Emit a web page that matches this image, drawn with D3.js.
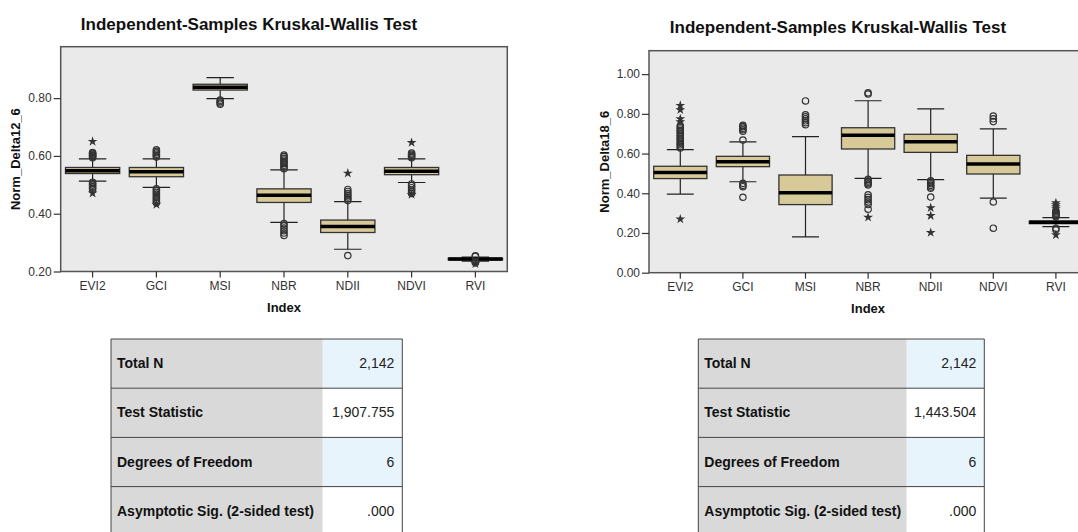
<!DOCTYPE html>
<html><head><meta charset="utf-8">
<script src="https://cdn.jsdelivr.net/npm/d3@7"></script>
<style>
body{margin:0;background:#fff}
svg{display:block}
text{font-family:"Liberation Sans",Arial,sans-serif}
</style>
</head><body>
<svg id="c" width="1078" height="532"></svg>
<script>
// ---------- DATA ----------
const categories = ["EVI2","GCI","MSI","NBR","NDII","NDVI","RVI"];
const chartTitle = "Independent-Samples Kruskal-Wallis Test";
const xAxisLabel = "Index";

// Chart 1: Norm_Delta12_6
const yLabel12 = "Norm_Delta12_6";
const yTicks12 = [0.20, 0.40, 0.60, 0.80];
const q1_12  = [0.539, 0.528, 0.828, 0.439, 0.335, 0.535, 0.240];
const med_12 = [0.549, 0.545, 0.838, 0.464, 0.356, 0.547, 0.243];
const q3_12  = [0.560, 0.560, 0.848, 0.486, 0.378, 0.560, 0.246];
const lo_12  = [0.513, 0.491, 0.798, 0.370, 0.277, 0.508, 0.236];
const hi_12  = [0.590, 0.590, 0.871, 0.552, 0.442, 0.590, 0.250];
const circles_12 = [
  [0.594,0.597,0.600,0.603,0.606,0.609,0.612, 0.509,0.504,0.499,0.494,0.489,0.484],
  [0.596,0.601,0.606,0.611,0.616,0.621, 0.486,0.480,0.474,0.468,0.462,0.456,0.450,0.444,0.438],
  [0.793,0.788,0.783,0.779],
  [0.556,0.562,0.568,0.574,0.580,0.586,0.592,0.598,0.603, 0.366,0.358,0.350,0.341,0.333,0.325],
  [0.446,0.452,0.458,0.464,0.470,0.477,0.484, 0.255],
  [0.594,0.598,0.602,0.606,0.610, 0.503,0.497,0.490,0.483,0.476,0.470],
  [0.252,0.254,0.233,0.230]
];
const stars_12 = [
  [0.650, 0.471],
  [0.432],
  [],
  [],
  [0.540],
  [0.646, 0.466],
  [0.227]
];

// Chart 2: Norm_Delta18_6
const yLabel18 = "Norm_Delta18_6";
const yTicks18 = [0.00, 0.20, 0.40, 0.60, 0.80, 1.00];
const q1_18  = [0.474, 0.534, 0.343, 0.623, 0.606, 0.497, 0.247];
const med_18 = [0.504, 0.559, 0.403, 0.692, 0.659, 0.548, 0.254];
const q3_18  = [0.536, 0.586, 0.492, 0.730, 0.697, 0.591, 0.260];
const lo_18  = [0.396, 0.458, 0.180, 0.475, 0.469, 0.376, 0.232];
const hi_18  = [0.620, 0.659, 0.685, 0.866, 0.825, 0.724, 0.277];
const circles_18 = [
  [0.628,0.636,0.644,0.652,0.660,0.668,0.676,0.684,0.692,0.700,0.708,0.716,0.724,0.732,0.740],
  [0.668,0.712,0.720,0.728,0.736,0.742, 0.450,0.440,0.433,0.380],
  [0.745,0.755,0.765,0.775,0.785,0.795,0.865],
  [0.900,0.906, 0.470,0.462,0.455,0.448,0.442,0.392,0.380,0.368,0.356,0.344,0.320],
  [0.463,0.456,0.448,0.440,0.432,0.425,0.381],
  [0.761,0.775,0.789, 0.356,0.224],
  [0.282,0.288,0.294,0.300,0.306,0.312, 0.224,0.216]
];
const stars_18 = [
  [0.760,0.775,0.820,0.842, 0.270],
  [],
  [],
  [0.279],
  [0.327,0.287,0.202],
  [],
  [0.322,0.332,0.342,0.352, 0.190]
];

// Tables
const tableLabels = ["Total N","Test Statistic","Degrees of Freedom","Asymptotic Sig. (2-sided test)"];
const tableValues12 = ["2,142","1,907.755","6",".000"];
const tableValues18 = ["2,142","1,443.504","6",".000"];

// ---------- DRAW ----------
const svg = d3.select("#c");
const fontTick = 12, fontAxis = 13;

function rows(q1, med, q3, lo, hi, circ, star){
  return categories.map((c,i)=>({cat:c,q1:q1[i],med:med[i],q3:q3[i],lo:lo[i],hi:hi[i],circ:circ[i],star:star[i]}));
}

function drawChart(cfg){
  const g = svg.append("g");
  const x = d3.scaleBand().domain(categories).range([cfg.x0, cfg.x1]).padding(0);
  const y = d3.scaleLinear().domain(cfg.yDomain).range([cfg.yb, cfg.yt]);
  const bw = x.bandwidth();

  // title
  g.append("text").attr("x", cfg.titleX).attr("y", cfg.titleY)
    .attr("text-anchor","middle").attr("font-size",17).attr("font-weight","bold")
    .attr("fill","#111").text(chartTitle);

  // plot background
  const clipId = "clip"+cfg.id;
  g.append("clipPath").attr("id",clipId).append("rect")
    .attr("x",cfg.x0).attr("y",cfg.yt).attr("width",cfg.x1-cfg.x0).attr("height",cfg.yb-cfg.yt);
  g.append("rect").attr("x",cfg.x0).attr("y",cfg.yt).attr("width",cfg.x1-cfg.x0).attr("height",cfg.yb-cfg.yt)
    .attr("fill","#eaeaea");

  const data = cfg.data;
  const pg = g.append("g").attr("clip-path",`url(#${clipId})`);
  const bg = pg.selectAll("g.box").data(data).join("g").attr("class","box")
    .attr("transform", d=>`translate(${x(d.cat)+bw/2},0)`);
  const boxW = bw*0.85, capW = bw*0.43;
  // whiskers
  bg.append("line").attr("x1",0).attr("x2",0).attr("y1",d=>y(d.hi)).attr("y2",d=>y(d.q3)).attr("stroke","#222").attr("stroke-width",1.2);
  bg.append("line").attr("x1",0).attr("x2",0).attr("y1",d=>y(d.q1)).attr("y2",d=>y(d.lo)).attr("stroke","#222").attr("stroke-width",1.2);
  bg.append("line").attr("x1",-capW/2).attr("x2",capW/2).attr("y1",d=>y(d.hi)).attr("y2",d=>y(d.hi)).attr("stroke","#222").attr("stroke-width",1.2);
  bg.append("line").attr("x1",-capW/2).attr("x2",capW/2).attr("y1",d=>y(d.lo)).attr("y2",d=>y(d.lo)).attr("stroke","#222").attr("stroke-width",1.2);
  // box
  bg.append("rect").attr("x",-boxW/2).attr("width",boxW)
    .attr("y",d=>y(d.q3)).attr("height",d=>Math.max(0.5,y(d.q1)-y(d.q3)))
    .attr("fill","#d8ca98").attr("stroke","#333").attr("stroke-width",1.3);
  // median
  bg.append("line").attr("x1",-boxW/2).attr("x2",boxW/2).attr("y1",d=>y(d.med)).attr("y2",d=>y(d.med))
    .attr("stroke","#000").attr("stroke-width",3.5);
  // outliers: circles
  bg.selectAll("circle").data(d=>d.circ).join("circle")
    .attr("cx",0).attr("cy",v=>y(v)).attr("r",3.2)
    .attr("fill","none").attr("stroke","#333").attr("stroke-width",1.2);
  // outliers: stars
  const starPath = d3.symbol().type(d3.symbolStar).size(30)();
  bg.selectAll("path.star").data(d=>d.star).join("path").attr("class","star")
    .attr("d",starPath).attr("transform",v=>`translate(0,${y(v)})`).attr("fill","#333");

  // frame
  g.append("rect").attr("x",cfg.x0).attr("y",cfg.yt).attr("width",cfg.x1-cfg.x0).attr("height",cfg.yb-cfg.yt)
    .attr("fill","none").attr("stroke","#555").attr("stroke-width",1.5);

  // axes
  const ax = g.append("g").attr("transform",`translate(0,${cfg.yb})`)
    .call(d3.axisBottom(x).tickSize(6).tickSizeOuter(0).tickPadding(4));
  ax.select(".domain").remove();
  ax.selectAll("line").attr("stroke","#333").attr("stroke-width",1.2);
  ax.selectAll("text").attr("font-size",fontTick).attr("fill","#333").attr("font-family",null);

  const ay = g.append("g").attr("transform",`translate(${cfg.x0},0)`)
    .call(d3.axisLeft(y).tickValues(cfg.yTicks).tickFormat(d3.format(".2f")).tickSize(7).tickSizeOuter(0).tickPadding(2));
  ay.select(".domain").remove();
  ay.selectAll("line").attr("stroke","#333").attr("stroke-width",1.2);
  ay.selectAll("text").attr("font-size",fontTick).attr("fill","#333").attr("font-family",null);

  g.append("text").attr("x",(cfg.x0+ (cfg.xl||cfg.x1))/2).attr("y",cfg.yb+40)
    .attr("text-anchor","middle").attr("font-size",fontAxis).attr("font-weight","bold").attr("fill","#111").text(xAxisLabel);
  g.append("text").attr("transform",`translate(${cfg.ylx},${(cfg.yt+cfg.yb)/2}) rotate(-90)`)
    .attr("text-anchor","middle").attr("dominant-baseline","middle")
    .attr("font-size",fontAxis).attr("font-weight","bold").attr("fill","#111").text(cfg.yLabel);
}

drawChart({id:1, x0:60.7, x1:507.3, yt:46.7, yb:271.5, yDomain:[0.2,0.978], yTicks:yTicks12,
  titleX:249, titleY:29.5, ylx:17, yLabel:yLabel12,
  data:rows(q1_12,med_12,q3_12,lo_12,hi_12,circles_12,stars_12)});
drawChart({id:2, x0:649, x1:649+7*62.6, yt:50.7, yb:272.7, yDomain:[0,1.118], yTicks:yTicks18,
  titleX:838, titleY:32.5, ylx:606, yLabel:yLabel18,
  data:rows(q1_18,med_18,q3_18,lo_18,hi_18,circles_18,stars_18)});

function drawTable(x0, split, x1, values){
  const top = 339, rh = 49.2;
  const g = svg.append("g");
  const rws = tableLabels.map((l,i)=>({label:l, value:values[i], i}));
  const rg = g.selectAll("g").data(rws).join("g").attr("transform",d=>`translate(0,${top+d.i*rh})`);
  rg.append("rect").attr("x",x0).attr("width",split-x0).attr("height",rh).attr("fill","#d9d9d9");
  rg.append("rect").attr("x",split).attr("width",x1-split).attr("height",rh)
    .attr("fill",d=>d.i%2===0?"#e8f4fc":"#ffffff");
  rg.append("line").attr("x1",x0).attr("x2",x1).attr("y1",0).attr("y2",0).attr("stroke","#444").attr("stroke-width",1);
  rg.append("text").attr("x",x0+6).attr("y",rh/2+1).attr("dominant-baseline","middle")
    .attr("font-size",14).attr("font-weight","bold").attr("fill","#111").text(d=>d.label);
  rg.append("text").attr("x",x1-8).attr("y",rh/2+1).attr("dominant-baseline","middle").attr("text-anchor","end")
    .attr("font-size",14).attr("fill","#222").text(d=>d.value);
  g.append("line").attr("x1",x0).attr("x2",x0).attr("y1",top).attr("y2",top+4*rh).attr("stroke","#444");
  g.append("line").attr("x1",x1).attr("x2",x1).attr("y1",top).attr("y2",top+4*rh).attr("stroke","#444");
}
drawTable(111, 322.7, 402.3, tableValues12);
drawTable(698.3, 906.7, 984.3, tableValues18);
</script>
</body></html>
